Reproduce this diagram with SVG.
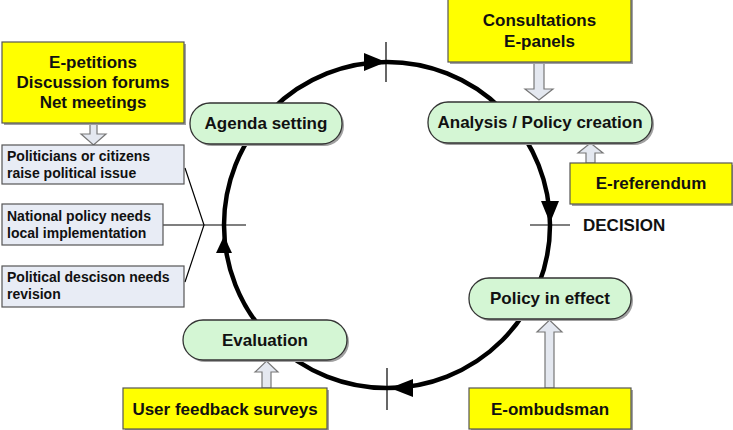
<svg xmlns="http://www.w3.org/2000/svg" width="733" height="430" viewBox="0 0 733 430">
<style>
text{font-family:"Liberation Sans",Arial,sans-serif;font-weight:bold;fill:#111}
.y{fill:#ffff00;stroke:#555;stroke-width:1.2}
.g{fill:#d4f6d4;stroke:#333;stroke-width:1.3}
.b{fill:#e8ecf5;stroke:#555;stroke-width:1.2}
.sh{fill:#a0a0a0}
.ba{fill:#e4e8f0;stroke:#777;stroke-width:1.2}
.t16{font-size:17px;text-anchor:middle}
.t13{font-size:14px}
.ln{stroke:#000;stroke-width:1.2;fill:none}
</style>
<rect width="733" height="430" fill="#fff"/>
<g id="connectors">
<circle cx="387" cy="225" r="163" fill="none" stroke="#000" stroke-width="4.5"/>
<polygon points="386,62 364,53 364,71" fill="#000"/>
<polygon points="550,223 541,201 559,201" fill="#000"/>
<polygon points="390,388 413,379 413,397" fill="#000"/>
<polygon points="224,236 216,253 232,253" fill="#000"/>
<line class="ln" x1="386" y1="42" x2="386" y2="82"/>
<line class="ln" x1="530" y1="225" x2="570" y2="225"/>
<line class="ln" x1="387" y1="368" x2="387" y2="410"/>
<line class="ln" x1="163" y1="225" x2="246" y2="225"/>
<polyline class="ln" points="185,168 204,225 185,282"/>
<polygon class="ba" points="90,123 97,123 97,134 106,134 93.5,145 81,134 90,134"/>
<polygon class="ba" points="534,62 544,62 544,89 553,89 539,100 525,89 534,89"/>
<polygon class="ba" points="586,163 595,163 595,153 603,153 590.5,143 578,153 586,153"/>
<polygon class="ba" points="262,388 271,388 271,372 278,372 266.5,361 255,372 262,372"/>
<polygon class="ba" points="545,388 554,388 554,332 562,332 549.5,320 537,332 545,332"/>
</g>
<g id="epetitions">
<rect class="sh" x="4" y="44" width="182" height="81"/>
<rect class="y" x="2" y="42" width="182" height="81"/>
<text class="t16" x="93" y="68">E-petitions</text>
<text class="t16" x="93" y="88">Discussion forums</text>
<text class="t16" x="93" y="108">Net meetings</text>
</g>
<g id="politicians">
<rect class="b" x="2" y="145" width="182" height="39"/>
<text class="t13" x="7" y="161">Politicians or citizens</text>
<text class="t13" x="7" y="178">raise political issue</text>
</g>
<g id="national">
<rect class="b" x="2" y="204" width="161" height="41"/>
<text class="t13" x="7" y="221">National policy needs</text>
<text class="t13" x="7" y="238">local implementation</text>
</g>
<g id="revision">
<rect class="b" x="2" y="266" width="182" height="41"/>
<text class="t13" x="7" y="282">Political descison needs</text>
<text class="t13" x="7" y="299">revision</text>
</g>
<g id="consultations">
<rect class="sh" x="450" y="-2" width="183" height="66"/>
<rect class="y" x="448" y="-4" width="183" height="66"/>
<text class="t16" x="539.5" y="26">Consultations</text>
<text class="t16" x="539.5" y="47">E-panels</text>
</g>
<g id="ereferendum">
<rect class="sh" x="572" y="165" width="162" height="41"/>
<rect class="y" x="570" y="163" width="162" height="41"/>
<text class="t16" x="651" y="189">E-referendum</text>
</g>
<g id="userfeedback">
<rect class="sh" x="125" y="390" width="204" height="41"/>
<rect class="y" x="123" y="388" width="204" height="41"/>
<text class="t16" x="225" y="415">User feedback surveys</text>
</g>
<g id="eombudsman">
<rect class="sh" x="471" y="390" width="162" height="41"/>
<rect class="y" x="469" y="388" width="162" height="41"/>
<text class="t16" x="550" y="415">E-ombudsman</text>
</g>
<g id="agenda">
<rect class="sh" x="192" y="105" width="152" height="41" rx="20"/>
<rect class="g" x="190" y="103" width="152" height="41" rx="20"/>
<text class="t16" x="266" y="129">Agenda setting</text>
</g>
<g id="analysis">
<rect class="sh" x="430" y="104" width="224" height="41" rx="20"/>
<rect class="g" x="428" y="102" width="224" height="41" rx="20"/>
<text class="t16" x="540" y="128">Analysis / Policy creation</text>
</g>
<g id="policyeffect">
<rect class="sh" x="471" y="280" width="162" height="41" rx="20"/>
<rect class="g" x="469" y="278" width="162" height="41" rx="20"/>
<text class="t16" x="550" y="304">Policy in effect</text>
</g>
<g id="evaluation">
<rect class="sh" x="185" y="322" width="164" height="40" rx="20"/>
<rect class="g" x="183" y="320" width="164" height="40" rx="20"/>
<text class="t16" x="265" y="346">Evaluation</text>
</g>
<text x="583" y="231" style="font-size:17px">DECISION</text>
</svg>
